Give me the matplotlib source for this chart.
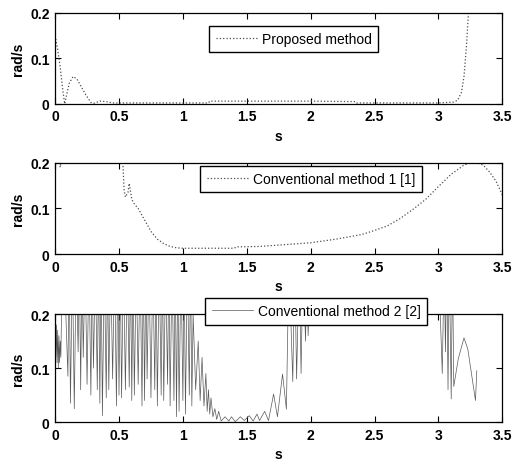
import numpy as np
import matplotlib.pyplot as plt

plt.rcParams['font.family'] = ['Liberation Sans', 'DejaVu Sans']
plt.rcParams['font.size'] = 10

# Proposed method (rad/s vs s), values past 0.2 run off the top of the axes
prop_t = [0.0, 0.02, 0.04, 0.06, 0.075, 0.09, 0.11, 0.14, 0.17, 0.2, 0.24, 0.28,
          0.3, 0.35, 0.4, 0.45, 0.5, 1.0, 1.2, 1.21, 1.5, 2.0, 2.35, 2.36, 3.0,
          3.12, 3.15, 3.18, 3.2, 3.22, 3.235, 3.25]
prop_w = [0.15, 0.12, 0.08, 0.03, 0.0, 0.02, 0.045, 0.06, 0.055, 0.04, 0.02, 0.003,
          0.001, 0.006, 0.005, 0.002, 0.002, 0.002, 0.002, 0.006, 0.006, 0.006, 0.005,
          0.002, 0.002, 0.004, 0.008, 0.025, 0.06, 0.13, 0.2, 0.26]

# Conventional method 1 [1]
conv1_t = [0.0, 0.03, 0.04, 0.05, 0.1, 0.5, 0.53, 0.54, 0.55, 0.57, 0.58, 0.6,
           0.62, 0.65, 0.7, 0.75, 0.8, 0.85, 0.9, 0.95, 1.0, 1.4, 1.42, 1.6, 1.8,
           2.0, 2.2, 2.4, 2.5, 2.6, 2.7, 2.8, 2.9, 3.0, 3.1, 3.2, 3.25, 3.3, 3.35,
           3.4, 3.45, 3.5]
conv1_w = [0.25, 0.21, 0.19, 0.21, 0.3, 0.3, 0.2, 0.14, 0.125, 0.135, 0.155, 0.12,
           0.11, 0.1, 0.075, 0.05, 0.033, 0.023, 0.017, 0.014, 0.013, 0.013, 0.016,
           0.017, 0.021, 0.025, 0.033, 0.043, 0.052, 0.062, 0.078, 0.098, 0.12, 0.148,
           0.175, 0.195, 0.2, 0.2, 0.195, 0.18, 0.16, 0.13]

# Conventional method 2 [2]
conv2_t = [0.0, 0.005, 0.01, 0.015, 0.02, 0.025, 0.03, 0.035, 0.04, 0.045, 0.05,
           0.07, 0.1, 0.11, 0.12, 0.135, 0.15, 0.165, 0.18, 0.19, 0.2, 0.21, 0.22,
           0.235, 0.25, 0.265, 0.28, 0.29, 0.3, 0.315, 0.33, 0.34, 0.35, 0.36, 0.37,
           0.385, 0.4, 0.41, 0.42, 0.435, 0.45, 0.465, 0.48, 0.49, 0.5, 0.51, 0.52,
           0.535, 0.55, 0.565, 0.58, 0.59, 0.6, 0.61, 0.62, 0.635, 0.65, 0.665, 0.68,
           0.69, 0.7, 0.71, 0.72, 0.735, 0.75, 0.765, 0.78, 0.79, 0.8, 0.815, 0.83,
           0.84, 0.85, 0.865, 0.88, 0.89, 0.9, 0.915, 0.93, 0.94, 0.95, 0.96, 0.97,
           0.985, 1.0, 1.01, 1.02, 1.035, 1.05, 1.06, 1.07, 1.08, 1.1, 1.12, 1.135,
           1.15, 1.165, 1.18, 1.19, 1.2, 1.21, 1.22, 1.235, 1.25, 1.265, 1.28, 1.3,
           1.33, 1.36, 1.38, 1.41, 1.45, 1.48, 1.52, 1.55, 1.58, 1.6, 1.64, 1.67,
           1.71, 1.74, 1.78, 1.81, 1.83, 1.86, 1.875, 1.89, 1.91, 1.925, 1.94, 1.96,
           1.97, 1.98, 2.0, 3.0, 3.03, 3.045, 3.055, 3.065, 3.075, 3.085, 3.1, 3.11,
           3.12, 3.155, 3.2, 3.23, 3.29, 3.3]
conv2_w = [0.2, 0.12, 0.18, 0.11, 0.17, 0.1, 0.16, 0.11, 0.15, 0.12, 0.2,
           0.3, 0.085, 0.3, 0.035, 0.3, 0.025, 0.3, 0.13, 0.3, 0.06, 0.3, 0.12,
           0.3, 0.07, 0.3, 0.05, 0.3, 0.1, 0.3, 0.06, 0.3, 0.035, 0.3, 0.012,
           0.3, 0.045, 0.3, 0.06, 0.3, 0.08, 0.3, 0.03, 0.3, 0.05, 0.3, 0.045,
           0.3, 0.06, 0.3, 0.065, 0.3, 0.04, 0.3, 0.05, 0.3, 0.07, 0.3, 0.03,
           0.3, 0.04, 0.3, 0.08, 0.3, 0.045, 0.3, 0.06, 0.3, 0.03, 0.3, 0.05,
           0.3, 0.04, 0.3, 0.07, 0.3, 0.03, 0.3, 0.04, 0.3, 0.01, 0.3, 0.02,
           0.3, 0.04, 0.3, 0.015, 0.3, 0.05, 0.3, 0.03, 0.2, 0.06, 0.15, 0.04,
           0.12, 0.03, 0.09, 0.02, 0.06, 0.015, 0.045, 0.01, 0.025, 0.005, 0.02, 0.002,
           0.01, 0.002, 0.01, 0.001, 0.01, 0.003, 0.012, 0.002, 0.015, 0.003, 0.02, 0.003,
           0.052, 0.01, 0.089, 0.024, 0.3, 0.075, 0.3, 0.08, 0.3, 0.09, 0.3, 0.15,
           0.3, 0.16, 0.3, 0.3, 0.09, 0.3, 0.13, 0.3, 0.06, 0.3, 0.043, 0.3,
           0.066, 0.117, 0.156, 0.135, 0.04, 0.095]

panels = [
    (prop_t, prop_w, 'Proposed method', ':', 0.9, '0.3', (0.345, 0.857)),
    (conv1_t, conv1_w, 'Conventional method 1 [1]', ':', 0.9, '0.3', (0.325, 0.967)),
    (conv2_t, conv2_w, 'Conventional method 2 [2]', '-', 0.5, '0.35', (0.336, 1.148)),
]
# axes rectangles [left, bottom, width, height] in figure fractions
rects = [[0.106, 0.774, 0.86, 0.196],
         [0.106, 0.450, 0.86, 0.197],
         [0.106, 0.088, 0.86, 0.233]]

fig = plt.figure(figsize=(5.2, 4.64), dpi=100)
for (t, w, name, ls, lw, col, anchor), rect in zip(panels, rects):
    ax = fig.add_axes(rect)
    ax.plot(t, w, color=col, lw=lw, ls=ls, label=name)
    ax.set_xlim(0, 3.5)
    ax.set_ylim(0, 0.2)
    ax.set_xticks(np.arange(0, 3.51, 0.5))
    ax.set_xticklabels(['0', '0.5', '1', '1.5', '2', '2.5', '3', '3.5'],
                       fontweight='bold')
    ax.set_yticks([0, 0.1, 0.2])
    ax.set_yticklabels(['0', '0.1', '0.2'], fontweight='bold')
    ax.tick_params(direction='in', top=True, right=True, length=4, width=0.8,
                   labelsize=10, pad=4)
    for sp in ax.spines.values():
        sp.set_linewidth(0.9)
    ax.set_xlabel('s', fontsize=10, fontweight='bold')
    ax.set_ylabel('rad/s', fontsize=10, fontweight='bold')
    leg = ax.legend(loc='upper left', bbox_to_anchor=anchor, fancybox=False,
                    framealpha=1, edgecolor='black', handlelength=2.95,
                    handletextpad=0.4, borderpad=0.45, borderaxespad=0,
                    fontsize=10)
    leg.get_frame().set_linewidth(1.0)

fig.savefig('out.png', dpi=100)
